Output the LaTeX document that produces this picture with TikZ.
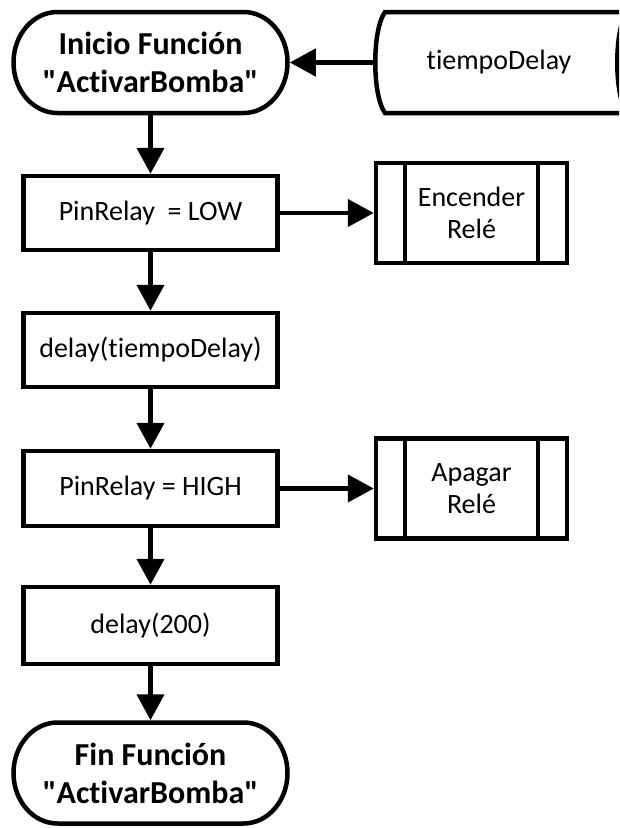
\documentclass[tikz,border=0pt]{standalone}
\usepackage{fontspec}
\setmainfont{Carlito}[Ligatures={TeXOff,NoCommon}]
\usetikzlibrary{arrows.meta}
\begin{document}
\begin{tikzpicture}[x=1pt,y=-1pt,
  outline/.style={line width=4.5pt, draw=black, line join=miter},
  procbox/.style={outline, rectangle, minimum width=254pt, inner sep=0pt,
    font=\fontsize{28}{32}\selectfont},
  subrbox/.style={outline, rectangle, minimum width=191pt, minimum height=100pt,
    inner sep=0pt, align=center, font=\fontsize{28}{32}\selectfont},
  termtext/.style={rectangle, line width=4.5pt, minimum width=274pt, minimum height=101pt,
    inner sep=0pt, align=center, font=\fontsize{32}{38}\selectfont\bfseries},
  flow/.style={line width=4.5pt, -{Triangle[length=26pt,width=27pt]}},
  terminator/.pic={
    \draw[outline] (-93,-50.5) -- (93,-50.5)
      .. controls (117.3,-50.5) and (137,-27.9) .. (137,0)
      .. controls (137,27.9) and (117.3,50.5) .. (93,50.5)
      -- (-93,50.5)
      .. controls (-117.3,50.5) and (-137,27.9) .. (-137,0)
      .. controls (-137,-27.9) and (-117.3,-50.5) .. (-93,-50.5) -- cycle;
  }
]
\path[use as bounding box, clip] (0,0) rectangle (619,828);

% start and end terminators
\pic at (150.5,62.5) {terminator};
\node[termtext] (start) at (150.5,62.5) {Inicio Función\\"ActivarBomba"};
\pic at (150.5,773) {terminator};
\node[termtext] (fin) at (150.5,773) {Fin Función\\"ActivarBomba"};

% stored-data input
\draw[outline] (385,12) -- (627,12)
  .. controls (614,30) and (614,95) .. (627,113)
  -- (385,113)
  .. controls (372,95) and (372,30) .. (385,12) -- cycle;
\node[rectangle, minimum width=242pt, minimum height=101pt, inner sep=0pt, outer sep=0pt,
  font=\fontsize{28}{32}\selectfont] (tdelay) at (496,62.5) {\hspace{6pt}tiempoDelay};

% process steps
\node[procbox, minimum height=74pt] (low)   at (150.5,213)   {PinRelay\ \ = LOW};
\node[procbox, minimum height=74pt] (wait)  at (150.5,350)   {delay(tiempoDelay)};
\node[procbox, minimum height=75pt] (high)  at (150.5,488.5) {PinRelay = HIGH};
\node[procbox, minimum height=77pt] (wait2) at (150.5,625.5) {delay(200)};

% predefined processes
\node[subrbox] (enc) at (471.5,213)   {Encender\\Relé};
\node[subrbox] (apg) at (471.5,488.5) {Apagar\\Relé};
\foreach \n in {enc,apg}{
  \draw[outline] ([xshift=31.25pt]\n.north west) -- ([xshift=31.25pt]\n.south west);
  \draw[outline] ([xshift=-31.25pt]\n.north east) -- ([xshift=-31.25pt]\n.south east);
}

% connectors
\draw[flow] (tdelay.west) -- (start.east);
\draw[flow] (start.south) -- (low.north);
\draw[flow] (low.south) -- (wait.north);
\draw[flow] (wait.south) -- (high.north);
\draw[flow] (high.south) -- (wait2.north);
\draw[flow] (wait2.south) -- (fin.north);
\draw[flow] (low.east) -- (enc.west);
\draw[flow] (high.east) -- (apg.west);
\end{tikzpicture}
\end{document}
